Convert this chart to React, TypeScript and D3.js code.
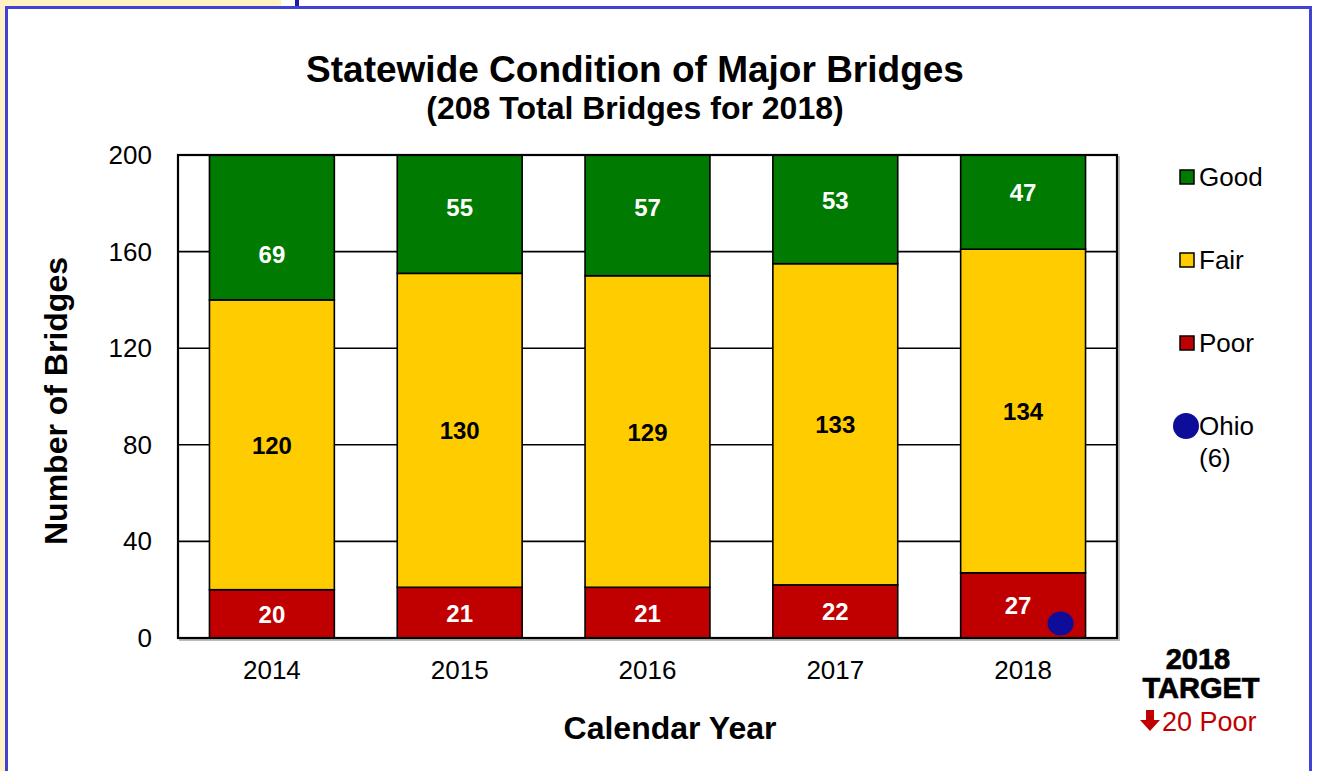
import React from "react";
import * as d3 from "d3";

const years = ["2014", "2015", "2016", "2017", "2018"];
const poor = [20, 21, 21, 22, 27];
const fair = [120, 130, 129, 133, 134];
const good = [69, 55, 57, 53, 47];
const goodLabelOverride: (number | null)[] = [159, null, null, null, null];
const yTicks = [0, 40, 80, 120, 160, 200];
const ohioValue = 6;
const seriesNames = ["Good", "Fair", "Poor"];
const colors: Record<string, string> = { Good: "#007a00", Fair: "#ffcc00", Poor: "#c00000" };

const FONT = "'Liberation Sans', Arial, Helvetica, sans-serif";

export default function App() {
  const W = 1319, H = 771;
  const left = 178, right = 1117, top = 155, bottom = 638;
  const x = d3.scaleBand<string>().domain(years).range([left, right]).paddingInner(0.335).paddingOuter(0.1675);
  const y = d3.scaleLinear().domain([0, 200]).range([bottom, top]);

  const rows = years.map((yr, i) => ({ year: yr, Poor: poor[i], Fair: fair[i], Good: good[i] }));
  const stack = d3.stack<any>().keys(["Poor", "Fair", "Good"]);
  const series = stack(rows);

  const legendY = [177, 260, 343];

  return (
    <svg width={W} height={H} style={{ position: "absolute", left: 0, top: 0, background: "#fff" }} fontFamily={FONT}>
      <defs>
        <clipPath id="plotclip">
          <rect x={left} y={top} width={right - left} height={bottom - top} />
        </clipPath>
      </defs>
      <rect x={0} y={0} width={W} height={H} fill="#fff" />
      {/* yellow background areas */}
      <rect x={0} y={0} width={281} height={6} fill="#fff1c1" />
      <rect x={0} y={0} width={5} height={H} fill="#fff1c1" />
      <line x1={297} y1={0} x2={297} y2={7} stroke="#1c1ca8" strokeWidth={4} />
      {/* blue frame */}
      <rect x={6.5} y={7.5} width={1304} height={H + 20} fill="none" stroke="#4141d6" strokeWidth={3} />

      {/* title */}
      <text x={635} y={82} textAnchor="middle" fontSize={37} fontWeight="bold" fill="#000">Statewide Condition of Major Bridges</text>
      <text x={635} y={119} textAnchor="middle" fontSize={32} fontWeight="bold" fill="#000">(208 Total Bridges for 2018)</text>

      {/* plot shadow */}
      <rect x={left + 2} y={top + 2} width={right - left} height={bottom - top} fill="none" stroke="#bbb" strokeWidth={2} />
      <rect x={left} y={top} width={right - left} height={bottom - top} fill="#fff" />

      {/* gridlines */}
      {yTicks.map((t) => (
        <line key={t} x1={left} x2={right} y1={y(t)} y2={y(t)} stroke="#000" strokeWidth={1.6} />
      ))}

      {/* bars */}
      <g clipPath="url(#plotclip)">
        {series.map((s) => (
          <g key={s.key}>
            {s.map((d, i) => (
              <rect
                key={i}
                x={x(years[i])!}
                y={y(d[1])}
                width={x.bandwidth()}
                height={y(d[0]) - y(d[1])}
                fill={colors[s.key]}
                stroke="#000"
                strokeWidth={1.6}
              />
            ))}
          </g>
        ))}
      </g>

      {/* labels */}
      {series.map((s) =>
        s.map((d, i) => {
          let v = (d[0] + d[1]) / 2;
          if (s.key === "Good" && goodLabelOverride[i] != null) v = goodLabelOverride[i] as number;
          const cx = x(years[i])! + x.bandwidth() / 2 - (s.key === "Poor" && i === 4 ? 5 : 0);
          return (
            <text
              key={s.key + i}
              x={cx}
              y={y(v) + 9}
              textAnchor="middle"
              fontSize={24}
              fontWeight="bold"
              fill={s.key === "Fair" ? "#000" : "#fff"}
            >
              {d.data[s.key]}
            </text>
          );
        })
      )}

      {/* Ohio dot */}
      <ellipse cx={x("2018")! + x.bandwidth() * 0.8} cy={y(ohioValue)} rx={13} ry={12} fill="#0d0d9a" />

      {/* plot border */}
      <rect x={left} y={top} width={right - left} height={bottom - top} fill="none" stroke="#000" strokeWidth={2.2} />

      {/* y axis ticks */}
      {yTicks.map((t) => (
        <text key={t} x={152} y={y(t) + 9} textAnchor="end" fontSize={26} fill="#000">{t}</text>
      ))}
      {/* x axis ticks */}
      {years.map((yr) => (
        <text key={yr} x={x(yr)! + x.bandwidth() / 2} y={679} textAnchor="middle" fontSize={26} fill="#000">{yr}</text>
      ))}

      {/* axis titles */}
      <text x={670} y={739} textAnchor="middle" fontSize={32} fontWeight="bold" fill="#000">Calendar Year</text>
      <text transform={`translate(67,401) rotate(-90)`} textAnchor="middle" fontSize={32} fontWeight="bold" fill="#000">Number of Bridges</text>

      {/* legend */}
      {seriesNames.map((n, i) => (
        <g key={n}>
          <rect x={1180} y={legendY[i] - 7} width={14} height={14} fill={colors[n]} stroke="#000" strokeWidth={1.5} />
          <text x={1199} y={legendY[i] + 9} fontSize={26} fill="#000">{n}</text>
        </g>
      ))}
      <circle cx={1186} cy={426} r={13} fill="#0d0d9a" />
      <text x={1199} y={435} fontSize={26} fill="#000">Ohio</text>
      <text x={1199} y={467} fontSize={26} fill="#000">(6)</text>

      {/* target */}
      <text x={1198} y={669} textAnchor="middle" fontSize={29} fontWeight="bold" fill="#000" stroke="#000" strokeWidth={0.7}>2018</text>
      <text x={1201} y={698} textAnchor="middle" fontSize={29} fontWeight="bold" fill="#000" stroke="#000" strokeWidth={0.7}>TARGET</text>
      <path d="M1146,710 L1154,710 L1154,720 L1160,720 L1150,731 L1140,720 L1146,720 Z" fill="#c00000" />
      <text x={1162} y={731} fontSize={27} fill="#c00000">20 Poor</text>
    </svg>
  );
}
